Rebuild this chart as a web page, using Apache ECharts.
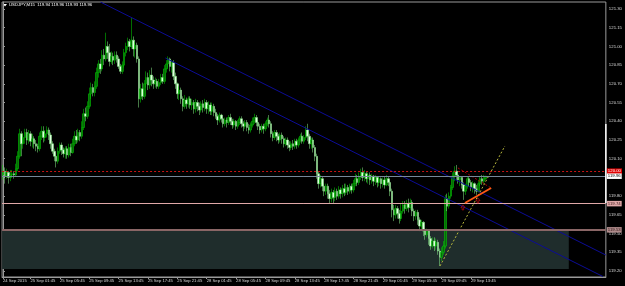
<!DOCTYPE html>
<html><head><meta charset="utf-8">
<script src="https://cdn.jsdelivr.net/npm/echarts@6/dist/echarts.min.js"></script>
<style>html,body{margin:0;padding:0;background:#000;}#c{width:625px;height:286px;}</style>
</head><body><div id="c"></div>
<script>
const symbolName = "USDJPY,M15";
const lastOHLC = ["119.94", "119.96", "119.93", "119.96"];
const days = ["24 Sep", "25 Sep", "28 Sep", "29 Sep"];
const firstLabel = "24 Sep 2015";
const firstDayStartMinutes = 22 * 60;
const priceTicks = [119.20, 119.35, 119.50, 119.65, 119.80, 119.95, 120.10, 120.25, 120.40, 120.55, 120.70, 120.85, 121.00, 121.15, 121.30];
const priceMin = 119.152, priceMax = 121.356;
const slots = 329;

// candles: [open, close, low, high]
const bars24Sep = [
[119.97,120.00,119.93,120.05],[120.00,119.96,119.90,120.03],[119.96,119.99,119.94,120.02],[119.99,119.95,119.90,120.00],
[119.95,119.97,119.92,120.01],[119.97,119.98,119.95,120.01],[119.98,119.97,119.94,120.00],[119.97,120.02,119.96,120.06]
];
const bars25Sep = [
[120.02,120.12,120.00,120.16],[120.12,120.30,120.10,120.34],[120.30,120.22,120.12,120.32],[120.22,120.27,120.18,120.30],
[120.27,120.31,120.22,120.34],[120.31,120.25,120.21,120.34],[120.25,120.30,120.22,120.33],[120.30,120.24,120.20,120.32],
[120.24,120.26,120.19,120.30],[120.26,120.22,120.18,120.28],[120.22,120.20,120.16,120.25],[120.20,120.18,120.15,120.22],
[120.18,120.28,120.16,120.31],[120.28,120.32,120.25,120.36],[120.32,120.27,120.23,120.36],[120.27,120.30,120.24,120.33],
[120.30,120.33,120.27,120.36],[120.33,120.29,120.25,120.35],[120.29,120.22,120.18,120.31],[120.22,120.16,120.14,120.24],
[120.16,120.12,120.08,120.18],[120.12,120.08,120.03,120.15],[120.08,120.16,120.06,120.19],[120.16,120.21,120.14,120.23],
[120.21,120.17,120.13,120.23],[120.17,120.14,120.11,120.19],[120.14,120.18,120.10,120.20],[120.18,120.13,120.10,120.20],
[120.13,120.19,120.11,120.22],[120.19,120.15,120.12,120.22],[120.15,120.22,120.14,120.26],[120.22,120.28,120.20,120.32],
[120.28,120.25,120.22,120.33],[120.25,120.31,120.23,120.34],[120.31,120.28,120.24,120.33],[120.28,120.35,120.26,120.40],
[120.35,120.46,120.33,120.50],[120.46,120.44,120.40,120.51],[120.44,120.52,120.42,120.56],[120.52,120.62,120.50,120.67],
[120.62,120.67,120.58,120.71],[120.67,120.63,120.60,120.70],[120.63,120.68,120.60,120.72],[120.68,120.79,120.66,120.83],
[120.79,120.86,120.75,120.89],[120.86,120.82,120.78,120.90],[120.82,120.93,120.80,120.97],[120.93,120.90,120.85,120.98],
[120.90,121.00,120.88,121.11],[121.00,120.95,120.90,121.04],[120.95,120.88,120.84,121.02],[120.88,120.92,120.86,120.96],
[120.92,120.89,120.85,120.95],[120.89,120.93,120.86,120.96],[120.93,120.90,120.87,120.96],[120.90,120.84,120.82,120.92],
[120.84,120.80,120.78,120.86],[120.80,120.85,120.78,120.88],[120.85,120.95,120.83,120.98],[120.95,121.00,120.92,121.03],
[121.00,121.04,120.97,121.07],[121.04,121.00,120.96,121.06],[121.00,121.05,120.98,121.23],[121.05,120.98,120.92,121.08],
[120.98,121.01,120.91,121.04],[121.01,120.90,120.87,121.03],[120.90,120.58,120.51,120.92],[120.58,120.66,120.55,120.70],
[120.66,120.60,120.57,120.71],[120.60,120.70,120.58,120.73],[120.70,120.75,120.67,120.80],[120.75,120.69,120.65,120.79],
[120.69,120.77,120.66,120.81],[120.77,120.73,120.68,120.83],[120.73,120.70,120.66,120.76],[120.70,120.72,120.67,120.75],
[120.72,120.68,120.66,120.74],[120.68,120.71,120.66,120.74],[120.71,120.75,120.69,120.78],[120.75,120.72,120.70,120.78],
[120.72,120.82,120.70,120.85],[120.82,120.86,120.79,120.89],[120.86,120.90,120.83,120.92],[120.90,120.84,120.80,120.91],
[120.84,120.87,120.79,120.89],[120.87,120.76,120.73,120.89],[120.76,120.70,120.66,120.79],[120.70,120.62,120.58,120.71],
[120.62,120.65,120.57,120.68],[120.65,120.58,120.54,120.67],[120.58,120.52,120.48,120.60],[120.52,120.57,120.50,120.61],
[120.57,120.54,120.50,120.59],[120.54,120.58,120.51,120.60],[120.58,120.53,120.50,120.60],[120.53,120.55,120.49,120.58]
];
const bars28Sep = [
[120.55,120.50,120.46,120.57],[120.50,120.55,120.47,120.58],[120.55,120.52,120.48,120.57],[120.52,120.49,120.45,120.55],
[120.49,120.54,120.47,120.56],[120.54,120.51,120.47,120.57],[120.51,120.55,120.48,120.58],[120.55,120.50,120.46,120.57],
[120.50,120.53,120.46,120.56],[120.53,120.48,120.45,120.55],[120.48,120.52,120.45,120.55],[120.52,120.47,120.44,120.54],
[120.47,120.44,120.42,120.50],[120.44,120.41,120.37,120.46],[120.41,120.45,120.39,120.47],[120.45,120.42,120.39,120.46],
[120.42,120.38,120.35,120.44],[120.38,120.41,120.36,120.43],[120.41,120.39,120.35,120.43],[120.39,120.43,120.37,120.45],
[120.43,120.40,120.37,120.46],[120.40,120.37,120.34,120.42],[120.37,120.40,120.35,120.42],[120.40,120.36,120.33,120.41],
[120.36,120.39,120.34,120.41],[120.39,120.42,120.37,120.44],[120.42,120.38,120.35,120.44],[120.38,120.36,120.32,120.40],
[120.36,120.39,120.34,120.41],[120.39,120.35,120.32,120.41],[120.35,120.33,120.30,120.38],[120.33,120.37,120.31,120.39],
[120.37,120.40,120.35,120.43],[120.40,120.43,120.38,120.46],[120.43,120.39,120.36,120.45],[120.39,120.36,120.33,120.41],
[120.36,120.33,120.30,120.38],[120.33,120.36,120.31,120.38],[120.36,120.34,120.30,120.38],[120.34,120.38,120.32,120.40],
[120.38,120.41,120.36,120.43],[120.41,120.38,120.35,120.45],[120.38,120.30,120.27,120.40],[120.30,120.27,120.24,120.32],
[120.27,120.31,120.25,120.33],[120.31,120.28,120.24,120.33],[120.28,120.25,120.22,120.30],[120.25,120.29,120.23,120.31],
[120.29,120.26,120.22,120.31],[120.26,120.22,120.19,120.28],[120.22,120.25,120.20,120.27],[120.25,120.21,120.18,120.27],
[120.21,120.19,120.16,120.24],[120.19,120.22,120.17,120.24],[120.22,120.20,120.17,120.25],[120.20,120.24,120.18,120.26],
[120.24,120.21,120.18,120.26],[120.21,120.25,120.19,120.27],[120.25,120.28,120.23,120.30],[120.28,120.24,120.22,120.31],
[120.24,120.27,120.22,120.29],[120.27,120.33,120.25,120.36],[120.33,120.28,120.24,120.38],[120.28,120.22,120.18,120.30],
[120.22,120.25,120.18,120.27],[120.25,120.19,120.15,120.27],[120.19,120.12,120.08,120.21],[120.12,119.98,119.94,120.14],
[119.98,119.90,119.86,120.00],[119.90,119.94,119.87,119.97],[119.94,119.88,119.84,119.96],[119.88,119.84,119.80,119.90],
[119.84,119.88,119.81,119.90],[119.88,119.82,119.78,119.90],[119.82,119.78,119.74,119.85],[119.78,119.83,119.75,119.86],
[119.83,119.79,119.74,119.85],[119.79,119.84,119.76,119.87],[119.84,119.80,119.77,119.86],[119.80,119.85,119.78,119.88],
[119.85,119.82,119.78,119.87],[119.82,119.86,119.79,119.89],[119.86,119.83,119.80,119.90],[119.83,119.87,119.81,119.90],
[119.87,119.84,119.81,119.89],[119.84,119.88,119.82,119.90],[119.88,119.85,119.82,119.90],[119.85,119.90,119.83,119.93],
[119.90,119.94,119.88,119.98],[119.94,119.91,119.88,119.97],[119.91,119.96,119.89,119.99],[119.96,119.99,119.93,120.02],
[119.99,119.95,119.92,120.03],[119.95,119.98,119.92,120.01],[119.98,119.94,119.91,120.00],[119.94,119.97,119.90,119.99]
];
const bars29Sep = [
[119.97,119.93,119.89,119.99],[119.93,119.96,119.90,119.98],[119.96,119.92,119.88,119.97],[119.92,119.95,119.89,119.97],
[119.95,119.91,119.87,119.96],[119.91,119.94,119.88,119.96],[119.94,119.90,119.86,119.95],[119.90,119.93,119.87,119.95],
[119.93,119.89,119.86,119.96],[119.89,119.94,119.88,119.97],[119.94,119.91,119.88,119.96],[119.91,119.84,119.80,119.93],
[119.84,119.69,119.63,119.86],[119.69,119.65,119.60,119.73],[119.65,119.70,119.62,119.73],[119.70,119.66,119.62,119.72],
[119.66,119.62,119.58,119.69],[119.62,119.68,119.60,119.74],[119.68,119.73,119.66,119.76],[119.73,119.70,119.66,119.76],
[119.70,119.74,119.68,119.77],[119.74,119.71,119.67,119.78],[119.71,119.75,119.69,119.78],[119.75,119.68,119.64,119.77],
[119.68,119.64,119.60,119.70],[119.64,119.67,119.61,119.69],[119.67,119.61,119.57,119.69],[119.61,119.56,119.52,119.63],
[119.56,119.59,119.53,119.61],[119.59,119.52,119.48,119.60],[119.52,119.49,119.45,119.54],[119.49,119.52,119.47,119.54],
[119.52,119.46,119.41,119.53],[119.46,119.40,119.37,119.48],[119.40,119.44,119.38,119.47],[119.44,119.40,119.36,119.47],
[119.40,119.43,119.37,119.46],[119.43,119.36,119.33,119.45],[119.36,119.31,119.24,119.38],[119.31,119.35,119.28,119.39],
[119.35,119.40,119.33,119.44],[119.40,119.78,119.38,119.81],[119.78,119.72,119.68,119.82],[119.72,119.80,119.70,119.83],
[119.80,119.87,119.78,119.89],[119.87,119.96,119.85,119.99],[119.96,120.00,119.92,120.04],[120.00,119.97,119.93,120.05],
[119.97,119.93,119.90,120.00],[119.93,119.95,119.88,119.96],[119.95,119.89,119.86,119.96],[119.89,119.84,119.77,119.91],
[119.84,119.88,119.81,119.90],[119.88,119.94,119.86,119.96],[119.94,119.91,119.88,119.96],[119.91,119.87,119.84,119.93],
[119.87,119.90,119.83,119.92],[119.90,119.86,119.82,119.91],[119.86,119.84,119.81,119.89],[119.84,119.90,119.83,119.93],
[119.90,119.94,119.88,119.96],[119.94,119.92,119.89,119.97],[119.92,119.94,119.90,119.97],[119.94,119.96,119.93,119.96]
];

// drawn objects, in [bar index, price]
const channelUpper = [[53.1, 121.356], [328.5, 119.328]];
const channelLower = [[88.5, 120.907], [326.9, 119.156]];
const yellowLine = [[238.1, 119.24], [273.5, 120.202]];
const orangeLine = [[251.7, 119.745], [266.0, 119.865]];
const redDotLine = [[247.9, 120.026], [266.0, 119.865]];
const arrowMarks = [[250.6, 119.71], [258.8, 119.765]];
const zoneBox = [[-0.5, 308.3, 119.53, 119.216]];
const rightBar = [[328.5, 119.745], [328.5, 120.378]];
const levelValues = [120.00, 119.96, 119.74, 119.53];

const ohlc = [], cats = [];
[bars24Sep, bars25Sep, bars28Sep, bars29Sep].forEach((arr, d) => {
  arr.forEach((b, j) => {
    const m = (d === 0 ? firstDayStartMinutes : 0) + 15 * j;
    cats.push(days[d] + ' ' + String(Math.floor(m / 60)).padStart(2, '0') + ':' + String(m % 60).padStart(2, '0'));
    ohlc.push(b);
  });
});
const nBars = ohlc.length;
while (cats.length < slots) cats.push('');
const showLabel = (i) => i === 0 || (i >= 15 && (i - 15) % 16 === 0 && i < nBars);

const FONT = 'Liberation Sans';
const chart = echarts.init(document.getElementById('c'), null, { renderer: 'canvas' });
const levelStyles = [
  { color: '#c81414', type: [2, 2], width: 1, bg: '#e00000', fc: '#ffffff' },
  { color: '#778899', type: 'solid', width: 1, bg: '#ffffff', fc: '#000000' },
  { color: '#e0a8a8', type: 'solid', width: 1, bg: '#e0a8a8', fc: '#3a1a1a' },
  { color: '#8a6666', type: 'solid', width: 2, bg: '#b08c8c', fc: '#2a1010' }
];
chart.setOption({
  animation: false,
  backgroundColor: '#000000',
  textStyle: { fontFamily: FONT },
  graphic: [
    { type: 'polygon', shape: { points: [[3, 4], [7, 4], [5, 6.5]] }, style: { fill: '#ffffff' } },
    { type: 'text', left: 9, top: 3, style: { text: symbolName + '  ' + lastOHLC.join(' '), fill: '#ffffff', font: '4.3px ' + FONT } }
  ],
  grid: { left: 1.5, right: 19, top: 2, bottom: 9, show: true, borderColor: '#9a9a9a', borderWidth: 1, backgroundColor: '#000000' },
  xAxis: [
    { type: 'category', data: cats, boundaryGap: true,
      axisLine: { show: true, lineStyle: { color: '#9a9a9a' } },
      axisTick: { show: true, length: 2, alignWithLabel: true, interval: (i) => showLabel(i), lineStyle: { color: '#9a9a9a' } },
      axisLabel: { interval: (i) => showLabel(i), formatter: (v, i) => i === 0 ? firstLabel : v, color: '#d8d8d8', fontSize: 4.2, align: 'left', margin: 2, fontFamily: FONT },
      splitLine: { show: false } },
    { type: 'value', min: -0.5, max: slots - 0.5, show: false, position: 'top' }
  ],
  yAxis: [{
    type: 'value', position: 'right', min: priceMin, max: priceMax, scale: true,
    axisLine: { show: true, lineStyle: { color: '#9a9a9a' } },
    axisTick: { show: true, length: 2, customValues: priceTicks, lineStyle: { color: '#9a9a9a' } },
    axisLabel: { customValues: priceTicks, formatter: (v) => v.toFixed(2), color: '#d8d8d8', fontSize: 4.3, margin: 3, fontFamily: FONT },
    splitLine: { show: false }
  }],
  series: [
    { type: 'custom', xAxisIndex: 1, yAxisIndex: 0, data: zoneBox, z: 1, silent: true,
      renderItem: (p, api) => {
        const a = api.coord([api.value(0), api.value(2)]);
        const b = api.coord([api.value(1), api.value(3)]);
        return { type: 'rect', shape: { x: a[0], y: a[1], width: b[0] - a[0], height: b[1] - a[1] }, style: { fill: '#1f2d2c' } };
      } },
    { type: 'line', xAxisIndex: 1, data: [], z: 2, silent: true,
      markLine: { symbol: 'none', silent: true,
        data: levelValues.map((v, k) => ({ yAxis: v,
          lineStyle: { color: levelStyles[k].color, type: levelStyles[k].type, width: levelStyles[k].width },
          label: { show: true, position: 'end', distance: 1, formatter: v.toFixed(2), backgroundColor: levelStyles[k].bg, color: levelStyles[k].fc, fontSize: 4.3, padding: [0.5, 1, 0, 1], lineHeight: 5, fontFamily: FONT } })) } },
    { type: 'candlestick', xAxisIndex: 0, yAxisIndex: 0, data: ohlc, z: 3, barWidth: 2,
      itemStyle: { color: '#086a08', color0: '#e0ffe0', borderColor: '#00dc00', borderColor0: '#8cf08c', borderWidth: 0.5 } },
    { type: 'line', xAxisIndex: 1, data: channelUpper, showSymbol: false, z: 4, lineStyle: { color: '#0c0c96', width: 1 } },
    { type: 'line', xAxisIndex: 1, data: channelLower, showSymbol: false, z: 4, lineStyle: { color: '#0c0c96', width: 1 } },
    { type: 'line', xAxisIndex: 1, data: yellowLine, showSymbol: false, z: 4, lineStyle: { color: '#b8b83c', width: 1, type: [2, 2] } },
    { type: 'line', xAxisIndex: 1, data: redDotLine, showSymbol: false, z: 4, lineStyle: { color: '#b00000', width: 1, type: [2, 2] } },
    { type: 'line', xAxisIndex: 1, data: orangeLine, showSymbol: false, z: 5, lineStyle: { color: '#ff5a14', width: 1.8 } },
    { type: 'scatter', xAxisIndex: 1, data: arrowMarks, z: 5, symbol: 'path://M5,0 L10,5 L7,5 L7,10 L3,10 L3,5 L0,5 Z', symbolSize: [4, 5],
      itemStyle: { color: 'rgba(0,0,0,0)', borderColor: '#d01010', borderWidth: 0.8 } },
    { type: 'line', xAxisIndex: 1, data: rightBar, showSymbol: false, clip: false, z: 6, lineStyle: { color: '#ffffff', width: 1.5 } }
  ]
});
</script></body></html>
